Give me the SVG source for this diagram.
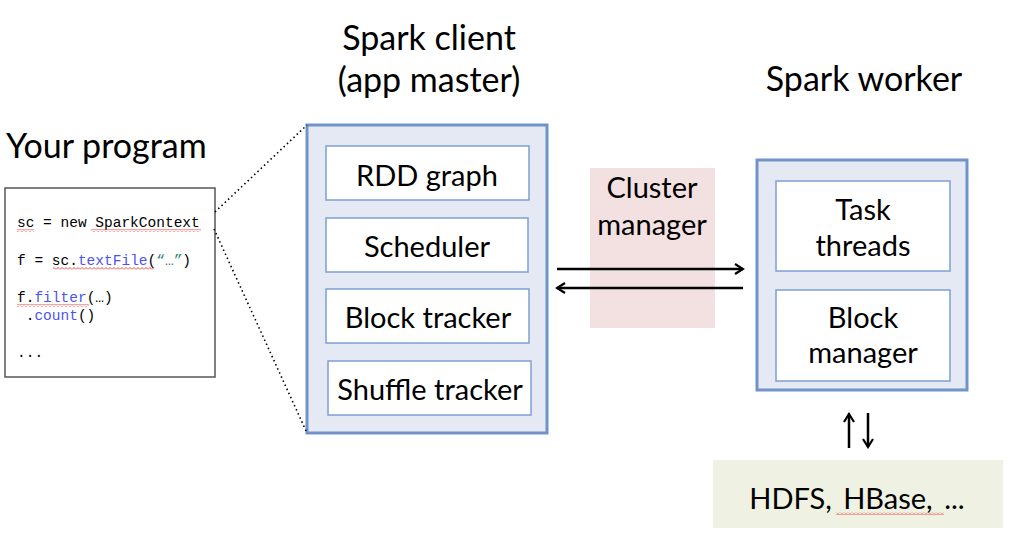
<svg xmlns="http://www.w3.org/2000/svg" width="1016" height="537" viewBox="0 0 1016 537">
<style>
.title{font-family:Lato,"Open Sans","Liberation Sans",sans-serif;font-size:34px;fill:#000}
.lbl{font-family:Lato,"Open Sans","Liberation Sans",sans-serif;font-size:29px;fill:#000;text-anchor:middle}
.code{font-family:"Liberation Mono","DejaVu Sans Mono",monospace;font-size:14.5px;fill:#000}
.kw{fill:#4a55f0}
.str{fill:#2a8a6a}
.outer{fill:#e4e9f3;stroke:#7193c8;stroke-width:3}
.inner{fill:#fff;stroke:#7d9fd3;stroke-width:1.5}
.dot{fill:none;stroke:#000;stroke-width:1.6;stroke-dasharray:1.5 3}
.arr{fill:none;stroke:#000;stroke-width:2.5}
</style>
<defs>
<marker id="ah" viewBox="0 0 12 12" refX="10" refY="6" markerWidth="12" markerHeight="12" markerUnits="userSpaceOnUse" orient="auto">
<path d="M2,1 L10,6 L2,11" fill="none" stroke="#000" stroke-width="2.2"/>
</marker>
<pattern id="wave" width="4" height="3" patternUnits="userSpaceOnUse">
<path d="M0,2.5 L2,0.5 L4,2.5" fill="none" stroke="#e33" stroke-width="0.9"/>
</pattern>
</defs>
<rect width="1016" height="537" fill="#fff"/>

<text class="title" x="6" y="158">Your program</text>
<text class="title" x="429" y="50" text-anchor="middle">Spark client</text>
<text class="title" x="429" y="92" text-anchor="middle">(app master)</text>
<text class="title" x="864" y="91" text-anchor="middle">Spark worker</text>

<g id="program">
<rect x="5" y="188" width="210" height="189" fill="#fff" stroke="#555" stroke-width="1.5"/>
<text class="code" x="17" y="227" xml:space="preserve">sc = new SparkContext</text>
<text class="code" x="17" y="265" xml:space="preserve">f = sc.<tspan class="kw">textFile</tspan>(<tspan class="str">“…”</tspan>)</text>
<text class="code" x="17" y="302">f.<tspan class="kw">filter</tspan>(…)</text>
<text class="code" x="17" y="320" xml:space="preserve"> .<tspan class="kw">count</tspan>()</text>
<text class="code" x="17" y="357">...</text>
<rect x="17" y="229" width="17" height="3" fill="url(#wave)"/>
<rect x="91" y="229" width="110" height="3" fill="url(#wave)"/>
<rect x="53" y="267" width="101" height="3" fill="url(#wave)"/>
<rect x="17" y="304" width="72" height="3" fill="url(#wave)"/>
</g>

<g id="client">
<rect class="outer" x="307" y="125" width="240" height="308"/>
<g id="rdd-graph"><rect class="inner" x="326" y="146" width="203" height="54"/><text class="lbl" x="427" y="186">RDD graph</text></g>
<g id="scheduler"><rect class="inner" x="326" y="218" width="202" height="54"/><text class="lbl" x="427" y="257">Scheduler</text></g>
<g id="block-tracker"><rect class="inner" x="326" y="289" width="203" height="54"/><text class="lbl" x="428" y="328">Block tracker</text></g>
<g id="shuffle-tracker"><rect class="inner" x="328" y="361" width="203" height="54"/><text class="lbl" x="430" y="400">Shuffle tracker</text></g>
</g>

<g id="cluster-manager">
<rect x="590" y="168" width="125" height="160" fill="#f3e0e0"/>
<text class="lbl" x="652" y="198">Cluster</text>
<text class="lbl" x="652" y="235">manager</text>
</g>

<g id="worker">
<rect class="outer" x="757" y="160" width="210" height="230"/>
<g id="task-threads"><rect class="inner" x="776" y="181" width="174" height="90"/><text class="lbl" x="863" y="220">Task</text><text class="lbl" x="863" y="256">threads</text></g>
<g id="block-manager"><rect class="inner" x="776" y="290" width="174" height="91"/><text class="lbl" x="863" y="328">Block</text><text class="lbl" x="863" y="363">manager</text></g>
</g>

<g id="storage">
<rect x="713" y="460" width="290" height="68" fill="#eff2e3"/>
<text class="lbl" x="857" y="509" font-size="37" word-spacing="4">HDFS, HBase, ...</text>
<rect x="836" y="512" width="108" height="3" fill="url(#wave)"/>
</g>

<g id="connectors">
<path class="dot" d="M215,212 L307,125"/>
<path class="dot" d="M214,229 L307,433"/>
<path class="arr" d="M557,269 L743,269" marker-end="url(#ah)"/>
<path class="arr" d="M743,288 L557,288" marker-end="url(#ah)"/>
<path class="arr" d="M849,448 L849,414" marker-end="url(#ah)"/>
<path class="arr" d="M868,413 L868,447" marker-end="url(#ah)"/>
</g>
</svg>
